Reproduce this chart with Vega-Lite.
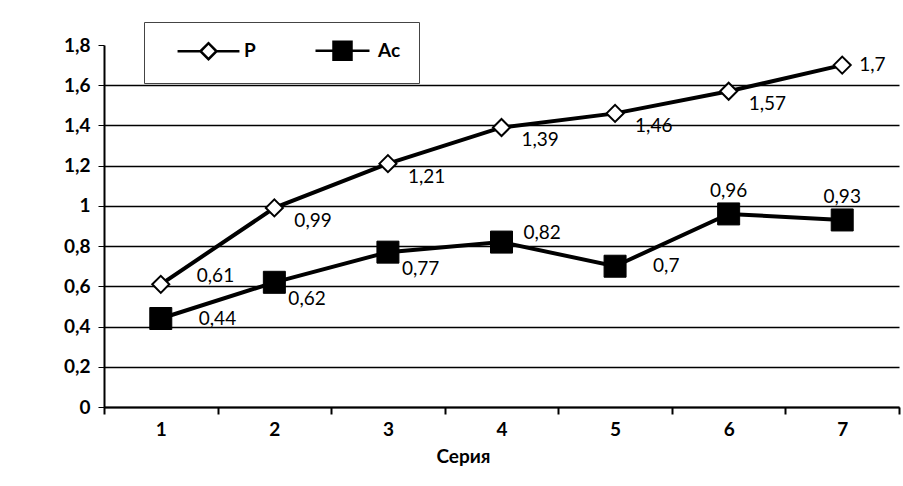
{
  "$schema": "https://vega.github.io/schema/vega-lite/v6.json",
  "autosize": "none",
  "width": 795,
  "height": 362,
  "padding": {"left": 104, "top": 45, "right": 4, "bottom": 79},
  "background": "white",
  "config": {
    "font": "Lato",
    "locale": {"number": {"decimal": ",", "thousands": " ", "grouping": [3], "currency": ["", ""]}},
    "view": {"stroke": null},
    "axis": {"labelFont": "Lato", "titleFont": "Lato", "labelColor": "black", "titleColor": "black"}
  },
  "data": {
    "values": [
      {"x": 1, "series": "P", "value": 0.61},
      {"x": 2, "series": "P", "value": 0.99},
      {"x": 3, "series": "P", "value": 1.21},
      {"x": 4, "series": "P", "value": 1.39},
      {"x": 5, "series": "P", "value": 1.46},
      {"x": 6, "series": "P", "value": 1.57},
      {"x": 7, "series": "P", "value": 1.7},
      {"x": 1, "series": "Ас", "value": 0.44},
      {"x": 2, "series": "Ас", "value": 0.62},
      {"x": 3, "series": "Ас", "value": 0.77},
      {"x": 4, "series": "Ас", "value": 0.82},
      {"x": 5, "series": "Ас", "value": 0.7},
      {"x": 6, "series": "Ас", "value": 0.96},
      {"x": 7, "series": "Ас", "value": 0.93}
    ]
  },
  "encoding": {
    "x": {
      "field": "x", "type": "ordinal",
      "scale": {"type": "band", "paddingInner": 0, "paddingOuter": 0},
      "axis": {
        "title": "Серия", "labelAngle": 0, "labelFontSize": 19, "labelFontWeight": "bold",
        "titleFontSize": 19, "titleFontWeight": "bold", "titleX": 359, "titlePadding": 8,
        "tickBand": "extent", "domainColor": "black", "domainWidth": 2, "tickColor": "black",
        "tickSize": 7, "tickWidth": 2, "labelPadding": 6
      }
    },
    "y": {
      "field": "value", "type": "quantitative",
      "scale": {"domain": [0, 1.8], "nice": false, "zero": true},
      "axis": {
        "title": null, "values": [0, 0.2, 0.4, 0.6, 0.8, 1, 1.2, 1.4, 1.6, 1.8],
        "format": ".1~f",
        "labelFontSize": 19, "labelFontWeight": "bold", "labelPadding": 8,
        "grid": true, "gridColor": "black", "gridWidth": 1.3,
        "gridOpacity": {"condition": {"test": "datum.value == 1.8", "value": 0}, "value": 1},
        "domainColor": "black", "domainWidth": 2, "tickColor": "black", "tickSize": 6
      }
    }
  },
  "layer": [
    {
      "mark": {"type": "line", "color": "black", "strokeWidth": 4},
      "encoding": {"detail": {"field": "series"}}
    },
    {
      "transform": [{"filter": "datum.series == 'P'"}],
      "mark": {"type": "point", "shape": "diamond", "size": 290, "filled": true, "fill": "white", "stroke": "black", "strokeWidth": 2, "opacity": 1}
    },
    {
      "transform": [{"filter": "datum.series == 'Ас'"}],
      "mark": {"type": "point", "shape": "square", "size": 484, "filled": true, "fill": "black", "stroke": "black", "strokeWidth": 1, "opacity": 1}
    },
    {
      "transform": [{"filter": "datum.series == 'P' && datum.x >= 2 && datum.x <= 6"}],
      "mark": {"type": "text", "align": "left", "baseline": "middle", "dx": 20, "dy": 13, "fontSize": 19, "font": "Lato", "color": "black"},
      "encoding": {"text": {"field": "value", "type": "quantitative", "format": ".2~f"}}
    },
    {
      "transform": [{"filter": "datum.series == 'P' && datum.x == 1"}],
      "mark": {"type": "text", "align": "left", "baseline": "middle", "dx": 36, "dy": -8, "fontSize": 19, "font": "Lato", "color": "black"},
      "encoding": {"text": {"field": "value", "type": "quantitative", "format": ".2~f"}}
    },
    {
      "transform": [{"filter": "datum.series == 'P' && datum.x == 7"}],
      "mark": {"type": "text", "align": "left", "baseline": "middle", "dx": 17, "dy": 0, "fontSize": 19, "font": "Lato", "color": "black"},
      "encoding": {"text": {"field": "value", "type": "quantitative", "format": ".2~f"}}
    },
    {
      "transform": [{"filter": "datum.series == 'Ас' && (datum.x == 2 || datum.x == 3)"}],
      "mark": {"type": "text", "align": "left", "baseline": "middle", "dx": 14, "dy": 17, "fontSize": 19, "font": "Lato", "color": "black"},
      "encoding": {"text": {"field": "value", "type": "quantitative", "format": ".2~f"}}
    },
    {
      "transform": [{"filter": "datum.series == 'Ас' && (datum.x == 1 || datum.x == 5)"}],
      "mark": {"type": "text", "align": "left", "baseline": "middle", "dx": 38, "dy": 0, "fontSize": 19, "font": "Lato", "color": "black"},
      "encoding": {"text": {"field": "value", "type": "quantitative", "format": ".2~f"}}
    },
    {
      "transform": [{"filter": "datum.series == 'Ас' && datum.x == 4"}],
      "mark": {"type": "text", "align": "left", "baseline": "middle", "dx": 22, "dy": -9, "fontSize": 19, "font": "Lato", "color": "black"},
      "encoding": {"text": {"field": "value", "type": "quantitative", "format": ".2~f"}}
    },
    {
      "transform": [{"filter": "datum.series == 'Ас' && datum.x >= 6"}],
      "mark": {"type": "text", "align": "center", "baseline": "middle", "dx": 0, "dy": -23, "fontSize": 19, "font": "Lato", "color": "black"},
      "encoding": {"text": {"field": "value", "type": "quantitative", "format": ".2~f"}}
    },
    {
      "transform": [{"filter": "false"}],
      "mark": {"type": "point", "filled": true, "size": 324, "opacity": 1, "strokeWidth": 2.5},
      "encoding": {
        "shape": {
          "field": "series", "type": "nominal",
          "scale": {"domain": ["P", "Ас"], "range": ["M0.56,0L3.11,0M3.11,0L4,-0.89L4.89,0L4,0.89ZM4.89,0L7.44,0", "M1,0L3,0M3,-1L5,-1L5,1L3,1ZM5,0L7,0"]},
          "legend": {
            "title": null, "orient": "none", "legendX": 40, "legendY": -23, "direction": "horizontal",
            "padding": 18, "strokeColor": "#444", "labelOffset": 61, "columnPadding": 40,
            "labelFontSize": 19, "labelFontWeight": "bold", "labelFont": "Lato", "labelColor": "black",
            "symbolSize": 324, "symbolStrokeColor": "black", "symbolStrokeWidth": 2.5,
            "labelExpr": "datum.label == 'Ас' ? datum.label + '     ' : datum.label"
          }
        },
        "fill": {
          "field": "series", "type": "nominal",
          "scale": {"domain": ["P", "Ас"], "range": ["white", "black"]}
        },
        "stroke": {
          "field": "series", "type": "nominal",
          "scale": {"domain": ["P", "Ас"], "range": ["black", "black"]}
        }
      }
    }
  ]
}
